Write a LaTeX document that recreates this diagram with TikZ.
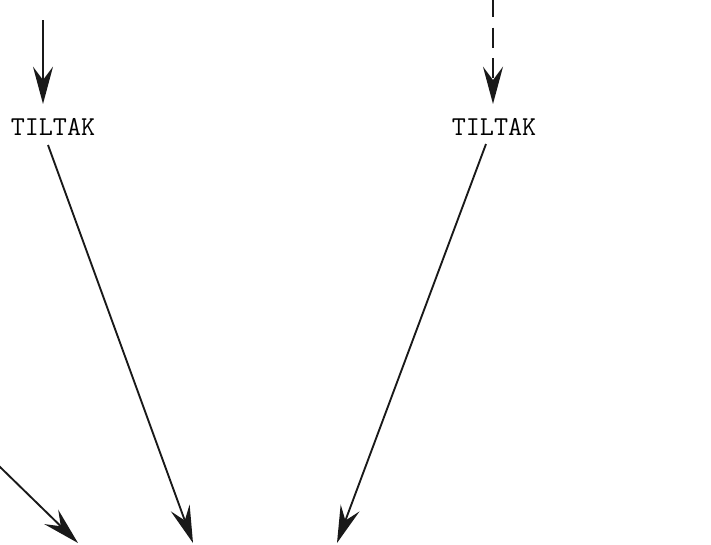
\documentclass[tikz,border=0pt]{standalone}
\usetikzlibrary{arrows.meta}
\begin{document}
\begin{tikzpicture}[x=0.75pt,y=-0.75pt,
  lbl/.style={font=\ttfamily\fontsize{20.5}{22}\selectfont, inner sep=0pt, text=black},
  conn/.style={line width=1.4pt, black!90, -{Stealth[length=28pt,width=15pt,inset=10pt]}},
  dashconn/.style={conn, dash pattern=on 15pt off 8pt}]
\useasboundingbox (0,0) rectangle (711,544);
\fill[white] (0,0) rectangle (711,544);
% nodes
\node[lbl] (t1) at (53,127) {TILTAK};
\node[lbl] (t2) at (494,127) {TILTAK};
% coordinates
\coordinate (a1) at (43,20);
\coordinate (a1e) at (43,104);
\coordinate (a2) at (493,-3);
\coordinate (a2e) at (493,104);
\coordinate (s1) at (48,145);
\coordinate (s2) at (486,144);
\coordinate (e1) at (193,543);
\coordinate (e2) at (337,543);
\coordinate (l0) at (-2,465);
\coordinate (le) at (78,543);
% connectors
\draw[conn] (a1) -- (a1e);
\draw[dashconn] (a2) -- (a2e);
\draw[conn] (s1) -- (e1);
\draw[conn] (s2) -- (e2);
\draw[conn] (l0) -- (le);
\end{tikzpicture}
\end{document}
